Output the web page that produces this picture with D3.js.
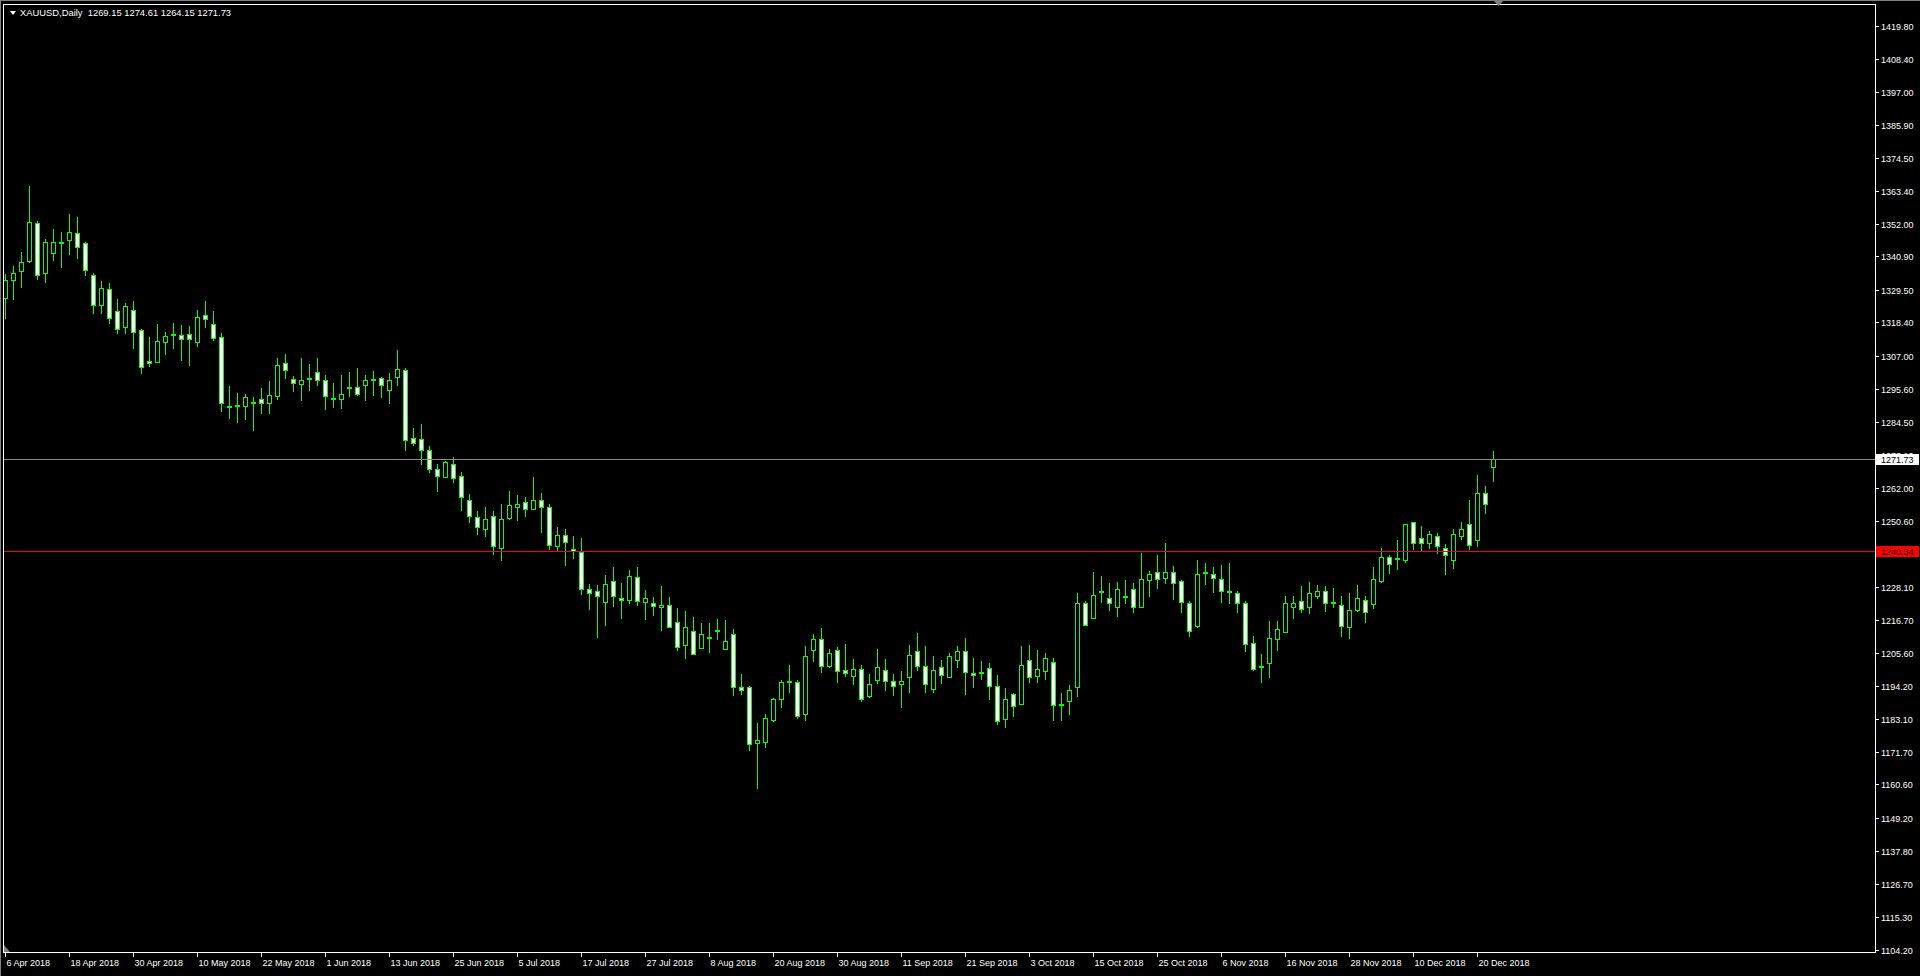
<!DOCTYPE html>
<html><head><meta charset="utf-8">
<script src="https://cdn.jsdelivr.net/npm/d3@7"></script>
<style>html,body{margin:0;padding:0;background:#000;overflow:hidden}svg{display:block}</style>
</head><body>
<svg id="c" width="1920" height="976"></svg>
<script>
const symbolTitle = "XAUUSD,Daily";
const headerValues = ["1269.15", "1274.61", "1264.15", "1271.73"];
const firstDate = "2018-04-06";

const open = [
1326.8,1333.0,1336.1,1339.2,1352.3,1335.1,1342.2,1345.7,1346.7,1348.8,
1345.4,1334.5,1324.5,1329.7,1322.2,1316.9,1322.5,1315.7,1305.1,1305.0,
1311.8,1314.3,1314.0,1314.3,1311.8,1320.8,1317.7,1313.3,1290.0,1290.3,
1289.9,1291.3,1292.1,1290.7,1293.4,1304.4,1298.9,1297.2,1299.4,1301.3,
1298.6,1292.7,1292.1,1296.2,1296.2,1296.9,1298.9,1299.3,1295.2,1299.6,
1302.0,1278.8,1278.4,1274.7,1268.2,1265.7,1269.9,1265.8,1257.9,1251.8,
1247.7,1252.4,1241.2,1251.6,1255.5,1256.9,1254.8,1257.6,1255.2,1242.1,
1245.9,1240.9,1240.1,1227.2,1226.6,1222.9,1229.9,1224.4,1223.6,1231.3,
1222.9,1222.7,1221.2,1222.0,1216.2,1208.2,1213.1,1207.2,1210.9,1213.1,
1207.0,1212.1,1193.7,1193.7,1174.9,1175.0,1182.6,1189.8,1195.8,1195.4,
1184.7,1206.6,1210.4,1201.1,1206.6,1199.5,1197.6,1200.1,1190.8,1196.3,
1199.8,1196.0,1195.0,1197.3,1206.0,1201.2,1193.2,1200.8,1197.3,1203.1,
1206.0,1198.8,1199.1,1200.5,1194.3,1182.9,1191.3,1188.1,1203.2,1197.6,
1199.4,1202.5,1188.1,1189.1,1193.7,1222.7,1217.5,1226.6,1224.4,1221.2,
1225.1,1227.2,1221.2,1230.3,1233.3,1231.1,1233.3,1229.9,1222.4,1214.7,
1233.1,1232.6,1230.9,1226.6,1226.1,1222.7,1209.0,1200.9,1202.1,1210.3,
1212.7,1221.2,1223.4,1221.2,1225.0,1226.5,1222.9,1222.0,1214.4,1220.2,
1223.7,1222.3,1230.1,1238.1,1237.8,1237.3,1250.1,1244.6,1242.9,1245.6,
1241.5,1237.1,1245.3,1249.4,1244.2,1260.0,1269.15
];
const high = [
1334.9,1337.7,1342.5,1365.0,1353.1,1346.9,1350.2,1349.3,1355.4,1354.4,
1345.9,1335.2,1332.5,1331.9,1326.4,1325.0,1325.7,1316.1,1313.4,1317.8,
1315.1,1318.2,1317.5,1317.2,1322.6,1325.7,1322.3,1314.7,1296.7,1294.3,
1293.9,1292.9,1295.9,1298.4,1306.2,1307.6,1300.1,1306.2,1304.2,1306.2,
1300.4,1297.7,1300.4,1301.4,1302.8,1300.3,1301.8,1299.7,1301.1,1309.0,
1302.7,1282.3,1283.7,1276.1,1270.0,1270.9,1272.4,1267.3,1259.7,1253.9,
1255.3,1253.9,1256.4,1260.8,1259.4,1258.7,1265.5,1260.1,1256.5,1248.5,
1247.8,1245.4,1244.7,1229.0,1228.6,1232.1,1234.8,1229.3,1233.8,1234.8,
1226.9,1224.5,1228.3,1224.5,1220.8,1219.7,1217.6,1215.6,1215.6,1217.0,
1216.7,1213.6,1198.2,1194.3,1181.7,1184.5,1190.2,1196.4,1201.3,1196.2,
1208.0,1211.9,1213.9,1207.0,1207.4,1208.5,1203.3,1201.5,1198.2,1206.8,
1203.3,1198.2,1199.2,1208.1,1212.2,1208.0,1204.3,1203.2,1205.6,1208.0,
1210.5,1203.6,1202.9,1201.9,1198.1,1193.4,1191.7,1207.8,1208.1,1206.4,
1205.4,1203.6,1191.7,1194.5,1225.8,1223.4,1233.1,1231.9,1229.3,1229.7,
1230.3,1229.3,1239.6,1233.6,1238.9,1243.0,1235.1,1230.3,1223.1,1237.2,
1236.2,1234.8,1235.5,1236.2,1226.8,1223.2,1211.2,1205.1,1216.3,1216.3,
1224.9,1224.9,1228.3,1229.7,1228.6,1228.3,1227.6,1224.8,1226.1,1228.6,
1225.1,1234.7,1241.5,1238.8,1244.0,1249.7,1250.1,1249.0,1247.0,1246.3,
1242.6,1247.8,1250.2,1257.7,1266.2,1262.5,1274.61
];
const low = [
1320.0,1326.4,1330.5,1339.0,1333.2,1332.2,1339.7,1337.4,1341.9,1340.4,
1334.6,1321.6,1321.6,1318.2,1314.9,1314.8,1309.8,1301.2,1303.6,1305.0,
1307.6,1309.6,1305.5,1303.8,1310.3,1316.7,1312.4,1288.2,1285.8,1284.5,
1285.5,1281.7,1287.5,1287.5,1292.2,1299.5,1295.1,1292.0,1295.4,1297.0,
1288.9,1289.6,1289.2,1293.4,1293.7,1292.0,1293.7,1293.0,1291.0,1297.1,
1274.9,1276.5,1270.0,1267.4,1260.9,1265.6,1264.0,1254.4,1250.3,1246.2,
1245.5,1239.3,1237.3,1251.3,1250.8,1252.2,1254.5,1246.9,1241.1,1240.6,
1235.6,1238.0,1225.7,1220.4,1211.0,1215.0,1221.5,1217.4,1222.5,1221.8,
1217.0,1218.4,1213.3,1214.4,1206.4,1203.8,1205.3,1207.2,1205.8,1210.2,
1207.0,1191.2,1191.5,1172.4,1159.4,1173.5,1182.1,1187.0,1192.2,1183.3,
1182.6,1202.8,1199.0,1200.7,1195.6,1197.5,1194.9,1189.1,1190.5,1195.2,
1192.9,1191.1,1187.0,1192.2,1199.6,1192.2,1192.2,1195.2,1197.3,1200.7,
1191.5,1193.9,1196.6,1189.7,1181.2,1180.2,1184.0,1188.1,1195.6,1195.6,
1196.6,1182.5,1182.5,1184.7,1190.8,1215.1,1217.5,1222.9,1220.1,1218.0,
1222.6,1219.5,1221.2,1225.0,1227.6,1229.3,1223.9,1219.4,1211.2,1214.4,
1229.0,1226.2,1222.8,1222.5,1219.4,1206.1,1199.6,1195.6,1197.3,1206.4,
1212.7,1217.5,1219.5,1219.2,1224.3,1219.9,1221.2,1211.3,1210.6,1219.9,
1216.1,1220.9,1229.8,1232.8,1234.2,1236.6,1241.1,1240.4,1241.5,1239.7,
1232.5,1234.6,1244.5,1241.1,1242.0,1253.2,1264.15
];
const close = [
1332.9,1335.2,1338.9,1352.6,1334.7,1345.8,1345.8,1345.5,1349.2,1344.3,
1336.4,1324.5,1330.0,1320.0,1316.3,1323.9,1315.2,1303.3,1304.4,1311.9,
1313.6,1314.1,1312.6,1312.6,1320.1,1319.4,1313.2,1290.7,1289.8,1290.2,
1292.8,1291.2,1290.7,1293.5,1303.7,1302.0,1297.6,1298.6,1299.3,1298.6,
1293.1,1292.6,1294.1,1296.1,1293.8,1298.6,1298.8,1296.9,1298.6,1302.4,
1278.1,1277.1,1274.7,1268.2,1265.8,1270.6,1265.3,1258.9,1252.4,1248.6,
1251.4,1241.9,1251.4,1255.9,1256.5,1254.8,1257.6,1255.5,1242.5,1245.9,
1243.4,1240.3,1227.4,1226.0,1225.0,1229.2,1225.0,1223.6,1231.9,1223.1,
1224.4,1221.6,1222.0,1214.4,1207.6,1214.2,1205.3,1211.8,1210.8,1213.2,
1209.7,1193.7,1193.0,1174.5,1175.9,1183.4,1189.6,1195.4,1195.7,1184.0,
1204.6,1210.1,1201.2,1205.6,1199.4,1198.8,1200.1,1189.8,1195.0,1200.8,
1196.0,1194.3,1196.0,1204.9,1201.1,1194.9,1199.8,1198.0,1204.3,1206.0,
1199.0,1198.1,1199.0,1194.2,1182.4,1189.9,1187.4,1201.5,1197.3,1200.1,
1203.6,1187.7,1188.0,1193.0,1222.7,1215.1,1225.4,1226.5,1222.6,1227.5,
1225.0,1221.2,1230.9,1232.6,1230.8,1233.0,1229.4,1222.9,1213.0,1232.3,
1233.0,1231.1,1226.7,1226.5,1222.6,1208.6,1200.0,1200.8,1210.7,1213.5,
1222.7,1222.7,1220.5,1225.8,1226.8,1222.4,1222.8,1214.8,1220.3,1224.1,
1219.5,1230.6,1238.4,1235.7,1237.7,1249.4,1243.2,1242.9,1246.0,1241.9,
1238.8,1246.0,1247.7,1242.2,1260.0,1256.2,1271.73
];
const priceTicks = [1419.80,1408.40,1397.00,1385.90,1374.50,1363.40,1352.00,1340.90,1329.50,1318.40,
  1307.00,1295.60,1284.50,1273.10,1262.00,1250.60,1239.50,1228.10,1216.70,1205.60,1194.20,1183.10,
  1171.70,1160.60,1149.20,1137.80,1126.70,1115.30,1104.20];
const dateTickLabels = ["6 Apr 2018","18 Apr 2018","30 Apr 2018","10 May 2018","22 May 2018","1 Jun 2018",
  "13 Jun 2018","25 Jun 2018","5 Jul 2018","17 Jul 2018","27 Jul 2018","8 Aug 2018","20 Aug 2018",
  "30 Aug 2018","11 Sep 2018","21 Sep 2018","3 Oct 2018","15 Oct 2018","25 Oct 2018","6 Nov 2018",
  "16 Nov 2018","28 Nov 2018","10 Dec 2018","20 Dec 2018"];
const bidPrice = 1271.73;
const levelPrice = 1240.34;

const W = 1920, H = 976;
const plotLeft = 3, plotRight = 1875, plotTop = 4, plotBottom = 952;
const FONT = "'Liberation Sans', Arial, sans-serif";
const LIME = "#00ff00";

const N = open.length;
const fmt = d3.timeFormat("%-d %b %Y");
const dates = [];
let dd = d3.timeParse("%Y-%m-%d")(firstDate);
while (dates.length < N) {
  const wd = dd.getDay();
  if (wd !== 0 && wd !== 6) dates.push(dd);
  dd = d3.timeDay.offset(dd, 1);
}
const keys = dates.map(fmt);
const bars = keys.map((k, i) => ({k, o: open[i], h: high[i], l: low[i], c: close[i]}));

const x = d3.scaleBand().domain(keys).range([1.5, 1.5 + 8 * N]);
const y = d3.scaleLinear().domain([1104.2, 1419.8]).range([949.5, 25.5]);
const cx = k => x(k) + x.bandwidth() / 2;
const Yr = v => Math.round(y(v));

const svg = d3.select("#c");
svg.append("rect").attr("width", W).attr("height", H).attr("fill", "#000");

svg.append("clipPath").attr("id", "clip").append("rect")
  .attr("x", plotLeft + 1).attr("y", plotTop + 1).attr("width", plotRight - plotLeft - 1).attr("height", plotBottom - plotTop - 1);
const plot = svg.append("g").attr("clip-path", "url(#clip)");

// wicks
plot.append("g").selectAll("rect").data(bars).join("rect")
  .attr("x", d => cx(d.k) - 0.5)
  .attr("y", d => Yr(d.h))
  .attr("width", 1)
  .attr("height", d => Yr(d.l) - Yr(d.h) + 1)
  .attr("fill", LIME);

// bodies
plot.append("g").selectAll("rect").data(bars).join("rect")
  .attr("x", d => cx(d.k) - 2)
  .attr("y", d => Yr(Math.max(d.o, d.c)) + 0.5)
  .attr("width", 4)
  .attr("height", d => Math.max(1, Yr(Math.min(d.o, d.c)) - Yr(Math.max(d.o, d.c))))
  .attr("fill", d => d.c >= d.o ? "#000" : "#fff")
  .attr("stroke", LIME).attr("stroke-width", 1);

// horizontal lines
plot.append("line").attr("x1", plotLeft).attr("x2", plotRight)
  .attr("y1", Yr(bidPrice) + 0.5).attr("y2", Yr(bidPrice) + 0.5)
  .attr("stroke", "#8c8c8c").attr("stroke-width", 1);
plot.append("line").attr("x1", plotLeft).attr("x2", plotRight)
  .attr("y1", Yr(levelPrice) + 0.5).attr("y2", Yr(levelPrice) + 0.5)
  .attr("stroke", "#ff0000").attr("stroke-width", 1);

// frame
svg.append("line").attr("x1", 0).attr("x2", W).attr("y1", 0.5).attr("y2", 0.5).attr("stroke", "#808080");
svg.append("line").attr("x1", 0.5).attr("x2", 0.5).attr("y1", 0).attr("y2", H).attr("stroke", "#808080");
svg.append("line").attr("x1", plotLeft + 0.5).attr("x2", plotRight + 0.5).attr("y1", plotTop + 0.5).attr("y2", plotTop + 0.5).attr("stroke", "#fff");
svg.append("line").attr("x1", plotLeft + 0.5).attr("x2", plotLeft + 0.5).attr("y1", plotTop).attr("y2", plotBottom + 1).attr("stroke", "#fff");
svg.append("line").attr("x1", plotRight + 0.5).attr("x2", plotRight + 0.5).attr("y1", plotTop).attr("y2", plotBottom + 1).attr("stroke", "#fff");
svg.append("line").attr("x1", plotLeft).attr("x2", plotRight + 1).attr("y1", plotBottom + 0.5).attr("y2", plotBottom + 0.5).attr("stroke", "#fff");

// markers
svg.append("path").attr("d", "M1494,1 L1503,1 L1498.5,6 Z").attr("fill", "#808080");
svg.append("path").attr("d", "M4,945 L4,952 L10,952 Z").attr("fill", "#808080");

// price axis
const pa = svg.append("g");
const pt = pa.selectAll("g").data(priceTicks).join("g")
  .attr("transform", d => `translate(0,${Yr(d) + 0.5})`);
pt.append("line").attr("x1", plotRight + 1).attr("x2", plotRight + 4).attr("stroke", "#fff");
pt.append("text").attr("x", plotRight + 6).attr("y", 3.5)
  .attr("fill", "#fff").attr("font-family", FONT).attr("font-size", 9)
  .text(d => d3.format(".2f")(d));

// price labels (bid, level)
function priceBox(v, bg, fg) {
  const yy = Yr(v) + 0.5;
  svg.append("rect").attr("x", plotRight + 1).attr("y", yy - 5.5).attr("width", 43).attr("height", 11).attr("fill", bg);
  svg.append("text").attr("x", plotRight + 6).attr("y", yy + 3.5)
    .attr("fill", fg).attr("font-family", FONT).attr("font-size", 9).text(d3.format(".2f")(v));
}
priceBox(bidPrice, "#fff", "#000");
priceBox(levelPrice, "#ff0000", "#200000");

// date axis
const tickKeys = dateTickLabels.filter(l => keys.includes(l));
const xa = svg.append("g").attr("transform", `translate(0,${plotBottom + 1})`)
  .call(d3.axisBottom(x).tickValues(tickKeys).tickSize(4).tickSizeOuter(0).tickPadding(0));
xa.select(".domain").remove();
xa.selectAll(".tick line").attr("stroke", "#fff");
xa.selectAll(".tick text").attr("fill", "#fff").attr("font-family", FONT).attr("font-size", 9)
  .attr("text-anchor", "start").attr("x", 1).attr("y", 13).attr("dy", 0);

// header
svg.append("path").attr("d", "M10,11 L16,11 L13,15 Z").attr("fill", "#fff");
svg.append("text").attr("x", 20).attr("y", 16).attr("fill", "#fff")
  .attr("font-family", FONT).attr("font-size", 9.4)
  .attr("xml:space", "preserve")
  .text(symbolTitle + "  " + headerValues.join(" "));
</script>
</body></html>
